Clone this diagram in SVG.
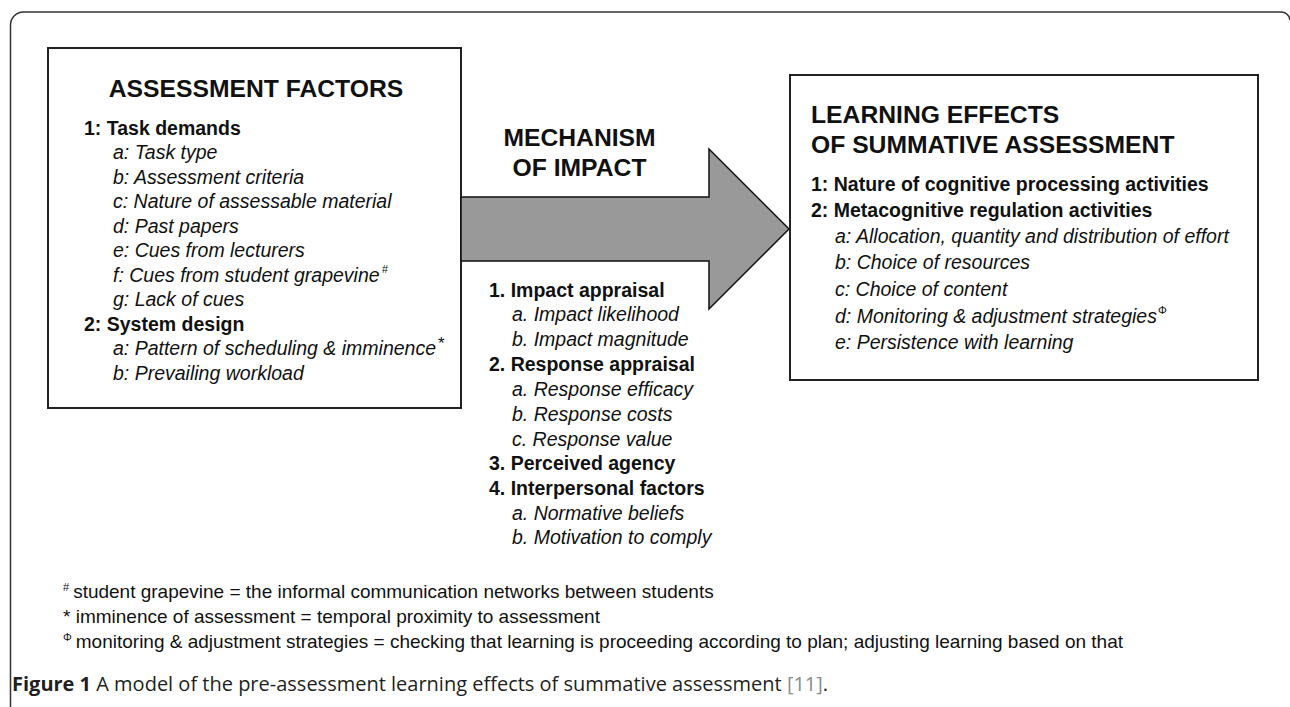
<svg xmlns="http://www.w3.org/2000/svg" width="1290" height="707" viewBox="0 0 1290 707">
<style>
  text { font-family: "Liberation Sans", Arial, sans-serif; fill: #111; }
  .title { font-size: 24.7px; font-weight: bold; }
  .hd { font-size: 19.5px; font-weight: bold; }
  .it { font-size: 19.5px; font-style: italic; }
  .fn { font-size: 19px; }
  .sup { font-size: 11px; }
  .box { fill: #fff; stroke: #222; stroke-width: 2; }
  .cap { font-family: "Open Sans", "Liberation Sans", sans-serif; font-size: 20px; fill: #231f20; }
</style>
<rect width="1290" height="707" fill="#fff"/>
<path d="M10.5,707 V25 A13,13 0 0 1 23.5,12 H1281 A9,9 0 0 1 1290,20" fill="none" stroke="#333" stroke-width="1.5"/>

<g id="assessment-factors">
  <rect class="box" x="48" y="48" width="413" height="360"/>
  <text class="title" x="256" y="97" text-anchor="middle">ASSESSMENT FACTORS</text>
  <text class="hd" x="84" y="135">1: Task demands</text>
  <text class="it" x="113" y="159">a: Task type</text>
  <text class="it" x="113" y="184">b: Assessment criteria</text>
  <text class="it" x="113" y="208">c: Nature of assessable material</text>
  <text class="it" x="113" y="233">d: Past papers</text>
  <text class="it" x="113" y="257">e: Cues from lecturers</text>
  <text class="it" x="113" y="282">f: Cues from student grapevine<tspan class="sup" dx="2" dy="-9">#</tspan></text>
  <text class="it" x="113" y="306">g: Lack of cues</text>
  <text class="hd" x="84" y="331">2: System design</text>
  <text class="it" x="113" y="355">a: Pattern of scheduling &amp; imminence<tspan font-size="17" font-style="normal" dx="2" dy="-6">*</tspan></text>
  <text class="it" x="113" y="380">b: Prevailing workload</text>
</g>

<g id="connectors">
  <polygon points="461,197 709,197 709,149 789,229 709,309 709,261 461,261" fill="#999" stroke="#111" stroke-width="1.5" stroke-linejoin="miter"/>
</g>

<g id="mechanism-of-impact">
  <text class="title" x="579.5" y="146" text-anchor="middle">MECHANISM</text>
  <text class="title" x="579.5" y="176" text-anchor="middle">OF IMPACT</text>
  <text class="hd" x="489" y="297">1. Impact appraisal</text>
  <text class="it" x="512" y="321">a. Impact likelihood</text>
  <text class="it" x="512" y="346">b. Impact magnitude</text>
  <text class="hd" x="489" y="371">2. Response appraisal</text>
  <text class="it" x="512" y="396">a. Response efficacy</text>
  <text class="it" x="512" y="421">b. Response costs</text>
  <text class="it" x="512" y="446">c. Response value</text>
  <text class="hd" x="489" y="470">3. Perceived agency</text>
  <text class="hd" x="489" y="495">4. Interpersonal factors</text>
  <text class="it" x="512" y="520">a. Normative beliefs</text>
  <text class="it" x="512" y="544">b. Motivation to comply</text>
</g>

<g id="learning-effects">
  <rect class="box" x="790" y="75" width="468" height="305" stroke-width="1.5"/>
  <text class="title" x="811" y="123">LEARNING EFFECTS</text>
  <text class="title" x="811" y="153">OF SUMMATIVE ASSESSMENT</text>
  <text class="hd" x="811" y="191">1: Nature of cognitive processing activities</text>
  <text class="hd" x="811" y="217">2: Metacognitive regulation activities</text>
  <text class="it" x="835" y="243">a: Allocation, quantity and distribution of effort</text>
  <text class="it" x="835" y="269">b: Choice of resources</text>
  <text class="it" x="835" y="296">c: Choice of content</text>
  <text class="it" x="835" y="323">d: Monitoring &amp; adjustment strategies<tspan class="sup" font-style="normal" dx="1" dy="-9">Φ</tspan></text>
  <text class="it" x="835" y="349">e: Persistence with learning</text>
</g>

<g id="footnotes">
  <text class="fn" x="63" y="598"><tspan class="sup" dy="-7">#</tspan><tspan dx="4" dy="7">student grapevine = the informal communication networks between students</tspan></text>
  <text class="fn" x="63" y="623">* imminence of assessment = temporal proximity to assessment</text>
  <text class="fn" x="63" y="648"><tspan class="sup" dy="-7">Φ</tspan><tspan dx="4" dy="7">monitoring &amp; adjustment strategies = checking that learning is proceeding according to plan; adjusting learning based on that</tspan></text>
</g>

<g id="caption">
  <text class="cap" x="12" y="691"><tspan font-weight="bold">Figure 1</tspan> A model of the pre-assessment learning effects of summative assessment <tspan fill="#8a8a8a">[11]</tspan>.</text>
</g>
</svg>
